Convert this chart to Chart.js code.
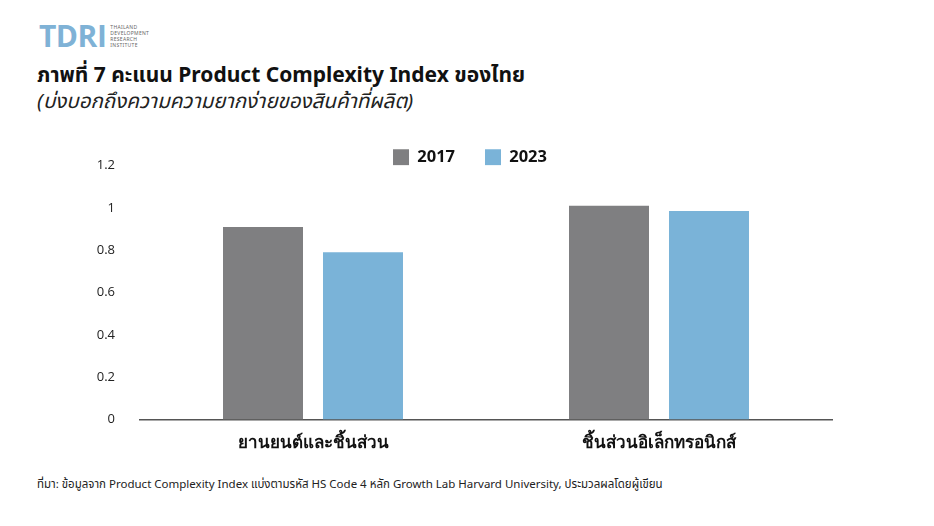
<!DOCTYPE html>
<html>
<head>
<meta charset="utf-8">
<script src="https://cdn.jsdelivr.net/npm/chart.js"></script>
<style>
  body { margin: 0; background: #fff; font-family: "Noto Sans", "Noto Sans Thai", sans-serif; }
  #wrap { position: relative; width: 934px; height: 526px; overflow: hidden; }
  .logo { position: absolute; left: 39px; top: 21px; display: flex; align-items: center; }
  .logo b { font-family: "Open Sans", sans-serif; font-size: 30px; font-weight: 700; color: #7fb2d6; letter-spacing: -0.5px; line-height: 30px; }
  .logo span { font-size: 5px; line-height: 6px; color: #666; margin-left: 4px; letter-spacing: 0.3px; }
  h1 { position: absolute; left: 37px; top: 60px; margin: 0; font-size: 21px; font-weight: 700; color: #111; }
  .sub { position: absolute; left: 37px; top: 86px; font-size: 20.5px; font-style: italic; color: #222; }
  .foot { position: absolute; left: 37px; top: 476px; font-size: 11.5px; color: #222; }
  #c { position: absolute; left: 0; top: 119px; }
</style>
</head>
<body>
<div id="wrap">
  <div class="logo"><b>TDRI</b><span>THAILAND<br>DEVELOPMENT<br>RESEARCH<br>INSTITUTE</span></div>
  <h1>ภาพที่ 7 คะแนน Product Complexity Index ของไทย</h1>
  <div class="sub">(บ่งบอกถึงความความยากง่ายของสินค้าที่ผลิต)</div>
  <canvas id="c" width="934" height="339"></canvas>
  <div class="foot">ที่มา: ข้อมูลจาก Product Complexity Index แบ่งตามรหัส HS Code 4 หลัก Growth Lab Harvard University, ประมวลผลโดยผู้เขียน</div>
</div>
<script>
const categories = ['ยานยนต์และชิ้นส่วน', 'ชิ้นส่วนอิเล็กทรอนิกส์'];
const values2017 = [0.91, 1.01];
const values2023 = [0.79, 0.985];
const yTicks = [0, 0.2, 0.4, 0.6, 0.8, 1, 1.2];

// legend sits closer to the plot than Chart.js allows by default
const tightLegend = {
  id: 'tightLegend',
  beforeInit(chart) {
    const fit = chart.legend.fit;
    chart.legend.fit = function () {
      fit.bind(chart.legend)();
      this.height -= 10;
    };
  }
};

const ctx = document.getElementById('c').getContext('2d');
const chart = new Chart(ctx, {
  type: 'bar',
  data: {
    labels: categories,
    datasets: [
      { label: '2017', data: values2017, backgroundColor: '#7f7f81' },
      { label: '2023', data: values2023, backgroundColor: '#7ab3d8' }
    ]
  },
  options: {
    responsive: false,
    animation: false,
    layout: { padding: { left: 6, right: 0, top: 0, bottom: 0 } },
    datasets: { bar: { categoryPercentage: 0.578, barPercentage: 0.8 } },
    plugins: {
      legend: {
        position: 'top',
        labels: {
          boxWidth: 16, boxHeight: 16, padding: 30,
          color: '#111',
          font: { family: 'Open Sans', size: 16.5, weight: 'bold' }
        }
      },
      tooltip: { enabled: false }
    },
    scales: {
      x: {
        grid: { display: false },
        border: { display: true, color: '#555', width: 1.5 },
        ticks: { color: '#111', padding: 5, font: { family: 'Noto Sans', size: 17, weight: 'bold' } }
      },
      y: {
        min: 0, max: 1.2,
        afterBuildTicks: s => { s.ticks = yTicks.map(v => ({ value: v })); },
        afterFit: s => { s.width = 134; },
        grid: { display: false },
        border: { display: false },
        ticks: {
          padding: 17, color: '#222',
          font: { family: 'Open Sans', size: 13 },
          callback: v => String(v)
        }
      },
      // empty right margin so the legend centres like the original
      yRight: {
        position: 'right',
        min: 0, max: 1.2,
        afterFit: s => { s.width = 102; },
        grid: { display: false },
        border: { display: false },
        ticks: { display: false }
      }
    }
  },
  plugins: [tightLegend]
});
</script>
</body>
</html>
